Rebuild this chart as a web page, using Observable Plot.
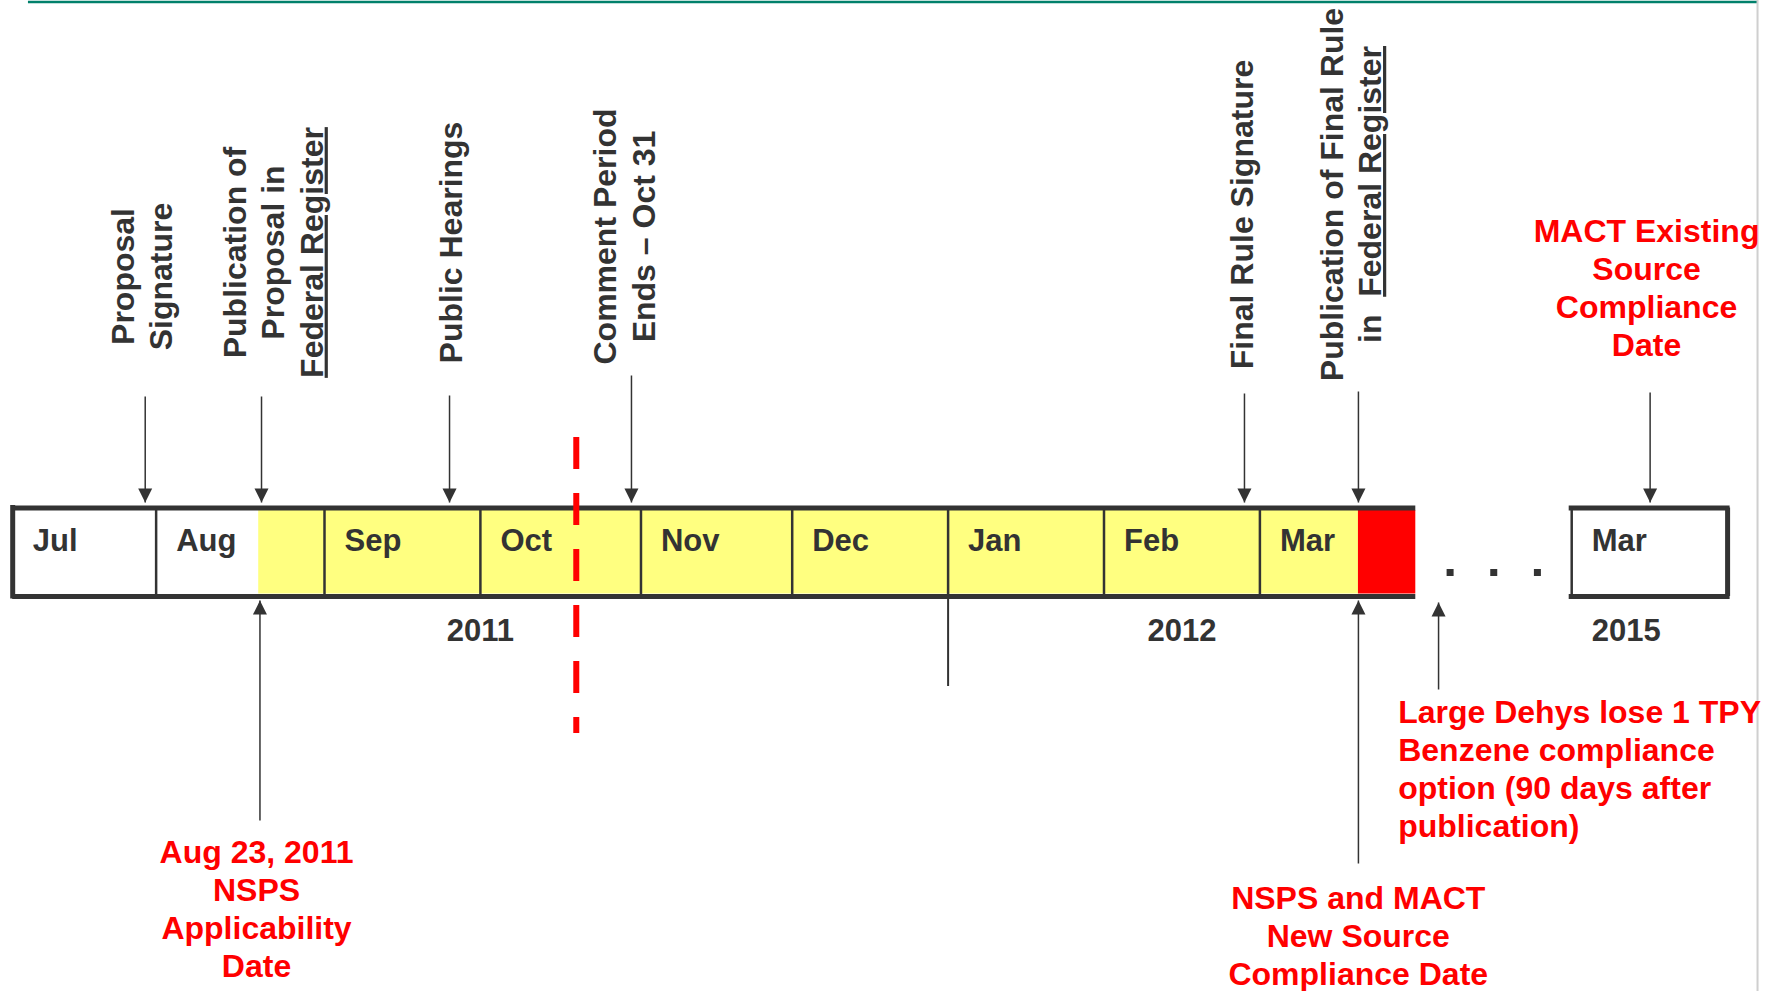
<!DOCTYPE html>
<html>
<head>
<meta charset="utf-8">
<script src="https://cdn.jsdelivr.net/npm/d3@7"></script>
<script src="https://cdn.jsdelivr.net/npm/@observablehq/plot@0.6"></script>
<style>
  html, body { margin: 0; padding: 0; background: #fff; overflow: hidden; }
  #chart { width: 1772px; height: 991px; }
  #chart svg { display: block; }
  #chart svg text { font-family: "Liberation Sans", Arial, Helvetica, sans-serif; font-weight: bold; }
  .ul { text-decoration: underline; text-decoration-thickness: 3px; text-underline-offset: 4px; }
</style>
</head>
<body>
<div id="chart"></div>
<script>
// ---------------- DATA (x = months after 1 Jul 2011) ----------------
const months      = ["Jul", "Aug", "Sep", "Oct", "Nov", "Dec", "Jan", "Feb", "Mar"];
const monthStart  = [0, 0.92, 2, 3, 4.03, 5, 6, 7, 8];
const barEnd      = 9;
const laterMonth  = ["Mar"];
const laterStart  = [10];
const laterEnd    = 11;
const yearLabels  = ["2011", "2012", "2015"];
const yearX       = [3.0, 7.5, 10.35];
const yearBoundary = [6];
const yellowStart = 1.578;
const redStart    = 8.632;
const commentLineX = [3.615];
const gapDots     = [9.22, 9.5, 9.78];

const eventText = [
  ["Proposal", "Signature"],
  ["Publication of", "Proposal in", "Federal Register"],
  ["Public Hearings"],
  ["Comment Period", "Ends \u2013 Oct 31"],
  ["Final Rule Signature"],
  ["Publication of Final Rule", "in\u00a0\u00a0Federal Register"]
];
const eventX      = [0.85, 1.596, 2.802, 3.969, 7.901, 8.632];
const eventLabelX = [0.821, 1.663, 2.804, 3.916, 7.874, 8.575];

const noteText = [
  ["Aug 23, 2011", "NSPS", "Applicability", "Date"],
  ["NSPS and MACT", "New Source", "Compliance Date"],
  ["Large Dehys lose 1 TPY", "Benzene compliance", "option (90 days after", "publication)"],
  ["MACT Existing", "Source", "Compliance", "Date"]
];
const noteX      = [1.586, 8.632, 9.146, 10.503];
const noteLabelX = [1.564, 8.631, 8.887, 10.48];
const noteAlign  = ["middle", "middle", "start", "middle"];

// ---------------- LAYOUT (vertical placement, px) ----------------
const W = 1772, H = 991;
const L = {
  greenY: 1.5, pageX1: 0.101, pageX2: 11.192,
  barTop: 507.5, barBottom: 596, innerTop: 510, innerBottom: 593.5,
  yearTickEnd: 686,
  monthBaseline: 550.7, yearBaseline: 640.7,
  dotY: 572,
  dashTop: 437, dashBottom: 733,
  topTip: 502, bottomTip: 600
};
const eventLabelMidY = [276, 252, 242, 236, 214, 194];
const eventArrowTopY = [396, 396, 395, 375, 393, 391];
const noteArrowFrom  = [820, 863, 689, 392];
const noteArrowTip   = [600, 600, 602, 502];
const noteLastBase   = [976.7, 984, 836.7, 355];

const INK = "#333333", RED = "#ff0000", YELLOW = "#ffff80";
const FONT = "Liberation Sans, Arial, Helvetica, sans-serif";

// ---------------- tables ----------------
const monthRows  = months.map((m, i) => ({m, x: monthStart[i]}));
const laterRows  = laterMonth.map((m, i) => ({m, x: laterStart[i]}));
const yearRows   = yearLabels.map((t, i) => ({t, x: yearX[i]}));
const eventRows  = eventText.map((t, i) => ({
  text: t.join("\n"), x: eventX[i], lx: eventLabelX[i],
  cy: eventLabelMidY[i], top: eventArrowTopY[i], tip: L.topTip
}));
const noteRows = noteText.map((t, i) => ({
  text: t.join("\n"), x: noteX[i], lx: noteLabelX[i], align: noteAlign[i],
  from: noteArrowFrom[i], tip: noteArrowTip[i], base: noteLastBase[i],
  dir: noteArrowFrom[i] > noteArrowTip[i] ? "up" : "down"
}));

// arrow-head symbols: tip at the anchor point
const downHead = {draw(ctx, size) { const r = Math.sqrt(size / Math.PI);
  ctx.moveTo(0, 0); ctx.lineTo(-r, -2 * r); ctx.lineTo(r, -2 * r); ctx.closePath(); }};
const upHead = {draw(ctx, size) { const r = Math.sqrt(size / Math.PI);
  ctx.moveTo(0, 0); ctx.lineTo(-r, 2 * r); ctx.lineTo(r, 2 * r); ctx.closePath(); }};

const chart = Plot.plot({
  width: W, height: H,
  marginTop: 0, marginRight: 0, marginBottom: 0, marginLeft: 0,
  style: {fontFamily: FONT, background: "#fff"},
  x: {domain: [0, barEnd], range: [12.2, 1415.3], axis: null},
  y: {domain: [0, H], range: [0, H], axis: null},
  marks: [
    // page decorations
    Plot.ruleY([L.greenY], {x1: L.pageX1, x2: L.pageX2, stroke: "#00806b", strokeWidth: 2.5}),
    Plot.ruleX([L.pageX2], {y1: 0, y2: H, stroke: "#cfcfcf", strokeWidth: 2}),

    // bar fills
    Plot.rect([{a: yellowStart, b: redStart}], {x1: "a", x2: "b", y1: L.innerTop, y2: L.innerBottom, fill: YELLOW}),
    Plot.rect([{a: redStart, b: barEnd}], {x1: "a", x2: "b", y1: L.innerTop, y2: L.innerBottom, fill: RED}),

    // month dividers and year boundary tick
    Plot.ruleX(monthStart.slice(1), {y1: L.barTop, y2: L.barBottom, stroke: INK, strokeWidth: 2.5}),
    Plot.ruleX(yearBoundary, {y1: L.barBottom, y2: L.yearTickEnd, stroke: INK, strokeWidth: 2}),

    // bar frame
    Plot.ruleY([L.barTop, L.barBottom], {x1: 0, x2: barEnd, stroke: INK, strokeWidth: 5}),
    Plot.ruleX([0], {y1: L.barTop - 2.5, y2: L.barBottom + 2.5, stroke: INK, strokeWidth: 5}),

    // later (2015) box
    Plot.ruleY([L.barTop, L.barBottom], {x1: laterStart[0], x2: laterEnd, stroke: INK, strokeWidth: 5, strokeLinecap: "square"}),
    Plot.ruleX(laterStart, {y1: L.barTop, y2: L.barBottom, stroke: INK, strokeWidth: 2.5}),
    Plot.ruleX([laterEnd], {y1: L.barTop, y2: L.barBottom, stroke: INK, strokeWidth: 5}),

    // ellipsis dots
    Plot.dot(gapDots, {x: d => d, y: L.dotY, symbol: "square", r: 3.95, fill: INK}),

    // month and year labels
    Plot.text(monthRows.concat(laterRows), {x: "x", y: L.monthBaseline, text: "m", dx: 20, textAnchor: "start",
      lineAnchor: "bottom", fontSize: 31, fontWeight: "bold", fill: INK}),
    Plot.text(yearRows, {x: "x", y: L.yearBaseline, text: "t", textAnchor: "middle",
      lineAnchor: "bottom", fontSize: 31, fontWeight: "bold", fill: INK}),

    // event arrows (from top)
    Plot.link(eventRows, {x1: "x", x2: "x", y1: "top", y2: "tip", stroke: INK, strokeWidth: 1.5}),
    Plot.dot(eventRows, {x: "x", y: "tip", symbol: downHead, r: 7, fill: INK}),

    // note arrows
    Plot.link(noteRows, {x1: "x", x2: "x", y1: "from", y2: "tip", stroke: INK, strokeWidth: 1.5}),
    Plot.dot(noteRows.filter(d => d.dir === "down"), {x: "x", y: "tip", symbol: downHead, r: 7, fill: INK}),
    Plot.dot(noteRows.filter(d => d.dir === "up"), {x: "x", y: "tip", symbol: upHead, r: 7, fill: INK}),

    // red dashed comment-period line
    Plot.ruleX(commentLineX, {y1: L.dashTop, y2: L.dashBottom, stroke: RED, strokeWidth: 6, strokeDasharray: "32,24"}),

    // rotated event labels
    Plot.text(eventRows, {x: "lx", y: "cy", text: "text", rotate: -90, textAnchor: "middle",
      lineAnchor: "middle", lineHeight: 1.2, fontSize: 32, fontWeight: "bold", fill: INK}),

    // red notes
    Plot.text(noteRows.filter(d => d.align === "middle"), {x: "lx", y: "base", text: "text", textAnchor: "middle",
      lineAnchor: "bottom", lineHeight: 1.185, fontSize: 32, fontWeight: "bold", fill: RED}),
    Plot.text(noteRows.filter(d => d.align === "start"), {x: "lx", y: "base", text: "text", textAnchor: "start",
      lineAnchor: "bottom", lineHeight: 1.185, fontSize: 32, fontWeight: "bold", fill: RED})
  ]
});

// underline "Federal Register"
chart.querySelectorAll("text, tspan").forEach(el => {
  if (el.children.length === 0 && el.textContent.includes("Federal Register")) {
    const t = el.textContent, i = t.indexOf("Federal Register");
    el.textContent = t.slice(0, i);
    const u = document.createElementNS("http://www.w3.org/2000/svg", "tspan");
    u.setAttribute("class", "ul");
    u.textContent = "Federal Register";
    el.appendChild(u);
    const rest = t.slice(i + "Federal Register".length);
    if (rest) el.appendChild(document.createTextNode(rest));
  }
});

document.getElementById("chart").appendChild(chart);
</script>
</body>
</html>
